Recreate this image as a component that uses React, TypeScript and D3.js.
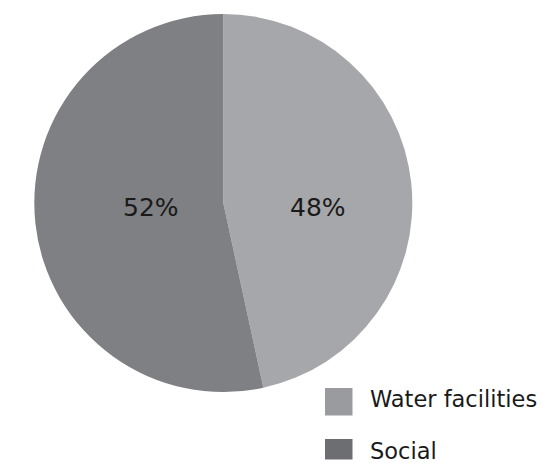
import React from "react";
import * as d3 from "d3";

// Categories and slice values (slice geometry as measured), with printed labels
const categories = ["Water facilities", "Social"];
const sliceValues = [46.6, 53.4];
const percentLabels = ["48%", "52%"];
const sliceColors = ["#a6a7aa", "#7f8083"];
const legendColors = ["#9a9b9e", "#6d6e71"];

const W = 544;
const H = 463;

export default function App() {
  const cx = 223.3;
  const cy = 203;
  const r = 189;

  const pie = d3
    .pie<number>()
    .sort(null)
    .value((d) => d)
    .startAngle(0)
    .endAngle(2 * Math.PI);
  const arcs = pie(sliceValues);
  const arc = d3.arc<d3.PieArcDatum<number>>().innerRadius(0).outerRadius(r);

  // label offsets (horizontal) relative to centre
  const labelX = [94.5, -72.5];
  const font = "'DejaVu Sans', sans-serif";

  // legend layout: square tops, square heights, text baselines
  const legendSquareY = [388, 439];
  const legendSquareH = [27.5, 20.5];
  const legendBaseline = [407, 459];

  return (
    <svg
      width={W}
      height={H}
      style={{ position: "absolute", left: 0, top: 0, display: "block" }}
    >
      <rect width={W} height={H} fill="#ffffff" />
      <g transform={`translate(${cx},${cy})`}>
        {arcs.map((a, i) => (
          <path key={i} d={arc(a) || ""} fill={sliceColors[i]} />
        ))}
        {arcs.map((a, i) => (
          <text
            key={"t" + i}
            x={labelX[i]}
            y={13}
            textAnchor="middle"
            fontFamily={font}
            fontSize={25}
            fill="#1a1a1a"
          >
            {percentLabels[i]}
          </text>
        ))}
      </g>
      {categories.map((c, i) => (
        <g key={c}>
          <rect
            x={325}
            y={legendSquareY[i]}
            width={27.5}
            height={legendSquareH[i]}
            fill={legendColors[i]}
          />
          <text
            x={370}
            y={legendBaseline[i]}
            fontFamily={font}
            fontSize={22.5}
            fill="#1a1a1a"
          >
            {c}
          </text>
        </g>
      ))}
    </svg>
  );
}
